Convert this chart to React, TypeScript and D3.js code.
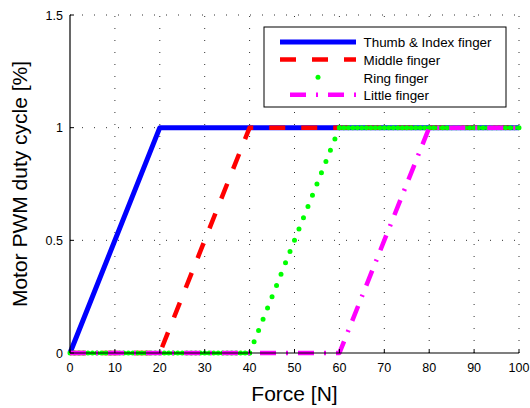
import React from "react";
import * as d3 from "d3";

const W = 530;
const H = 408;
const M = { left: 70, right: 11, top: 15, bottom: 55 };

const xTicks = [0, 10, 20, 30, 40, 50, 60, 70, 80, 90, 100];
const yTicks = [0, 0.5, 1, 1.5];
const yTickLabels = ["0", "0.5", "1", "1.5"];

const thumbX = [0, 20, 100];
const thumbY = [0, 1, 1];
const middleX = [0, 20, 40, 100];
const middleY = [0, 0, 1, 1];
const ringX = [0, 40, 60, 100];
const ringY = [0, 0, 1, 1];
const littleX = [0, 60, 80, 100];
const littleY = [0, 0, 1, 1];

const seriesNames = ["Thumb & Index finger", "Middle finger", "Ring finger", "Little finger"];

export default function App() {
  const x = d3.scaleLinear().domain([0, 100]).range([M.left, W - M.right]);
  const y = d3.scaleLinear().domain([0, 1.5]).range([H - M.bottom, M.top]);
  const line = d3
    .line<[number, number]>()
    .x((d) => x(d[0]))
    .y((d) => y(d[1]));
  const zip = (a: number[], b: number[]) => a.map((v, i) => [v, b[i]] as [number, number]);

  const styles = [
    { color: "#0000ff", dash: undefined as string | undefined, cap: "butt" as const, width: 5 },
    { color: "#ff0000", dash: "16,16", cap: "butt" as const, width: 4.5 },
    { color: "#00ff00", dash: "0,12", cap: "round" as const, width: 5 },
    { color: "#ff00ff", dash: "16,10,2,10", cap: "butt" as const, width: 4.5 },
  ];
  const data = [zip(thumbX, thumbY), zip(middleX, middleY), zip(ringX, ringY), zip(littleX, littleY)];

  const font = "'Liberation Sans', Arial, Helvetica, sans-serif";
  const x0 = x(0);
  const y0 = y(0);
  const legX = 264, legY = 27, legW = 242, legH = 80;

  const renderSeries = (d: [number, number][], i: number) => {
    const s = styles[i];
    if (i === 2) {
      // dotted line: one dot per 1 N step along each segment
      return d.slice(1).map((p, k) => {
        const a = d[k];
        const len = Math.hypot(x(p[0]) - x(a[0]), y(p[1]) - y(a[1]));
        const pitch = len / Math.max(1, p[0] - a[0]);
        return (
          <path
            key={`g${k}`}
            d={line([a, p]) || ""}
            fill="none"
            stroke={s.color}
            strokeWidth={s.width}
            strokeDasharray={`0,${pitch.toFixed(3)}`}
            strokeLinecap="round"
          />
        );
      });
    }
    return (
      <path
        d={line(d) || ""}
        fill="none"
        stroke={s.color}
        strokeWidth={s.width}
        strokeDasharray={s.dash}
        strokeLinecap={s.cap}
        strokeLinejoin="round"
      />
    );
  };

  return (
    <svg width={W} height={H} style={{ position: "absolute", left: 0, top: 0 }} fontFamily={font}>
      <rect width={W} height={H} fill="#fff" />
      {/* grid */}
      {xTicks.filter((t) => t > 0).map((t) => (
        <line key={"gx" + t} x1={x(t)} x2={x(t)} y1={y0} y2={y(1.5)} stroke="#333" strokeWidth={1} strokeDasharray="1,11" />
      ))}
      {yTicks.filter((t) => t > 0).map((t) => (
        <line key={"gy" + t} x1={x0} x2={x(100)} y1={y(t)} y2={y(t)} stroke="#333" strokeWidth={1} strokeDasharray="1,11" />
      ))}
      {/* series */}
      {data.map((d, i) => (
        <g key={i}>{renderSeries(d, i)}</g>
      ))}
      {/* axes */}
      <line x1={x0} x2={x(100)} y1={y0} y2={y0} stroke="#000" strokeWidth={1.2} />
      <line x1={x0} x2={x0} y1={y0} y2={y(1.5)} stroke="#000" strokeWidth={1.2} />
      {xTicks.map((t) => (
        <g key={"tx" + t}>
          <line x1={x(t)} x2={x(t)} y1={y0} y2={y0 - 4} stroke="#000" strokeWidth={1} />
          <text x={x(t)} y={y0 + 18.5} fontSize={12.5} textAnchor="middle" fill="#000">{t}</text>
        </g>
      ))}
      {yTicks.map((t, i) => (
        <g key={"ty" + t}>
          <line x1={x0} x2={x0 + 4} y1={y(t)} y2={y(t)} stroke="#000" strokeWidth={1} />
          <text x={x0 - 7} y={y(t) + 4.5} fontSize={12.5} textAnchor="end" fill="#000">{yTickLabels[i]}</text>
        </g>
      ))}
      <text x={(x0 + x(100)) / 2} y={401} fontSize={21} textAnchor="middle" fill="#000">Force [N]</text>
      <text transform={`translate(27, ${(y0 + y(1.5)) / 2}) rotate(-90)`} fontSize={21} textAnchor="middle" fill="#000">
        Motor PWM duty cycle [%]
      </text>
      {/* legend */}
      <rect x={legX} y={legY} width={legW} height={legH} fill="#fff" stroke="#000" strokeWidth={1} />
      {seriesNames.map((name, i) => {
        const base = 47.3 + i * 17.6;
        const ly = base - 5.3;
        return (
          <g key={name}>
            {i === 2 ? (
              <circle cx={318} cy={ly} r={2.5} fill={styles[i].color} />
            ) : (
              <line
                x1={280}
                x2={356}
                y1={ly}
                y2={ly}
                stroke={styles[i].color}
                strokeWidth={styles[i].width}
                strokeDasharray={styles[i].dash}
                strokeDashoffset={i === 3 ? 28 : 0}
              />
            )}
            <text x={363.5} y={base} fontSize={13.4} fill="#000">{name}</text>
          </g>
        );
      })}
    </svg>
  );
}
